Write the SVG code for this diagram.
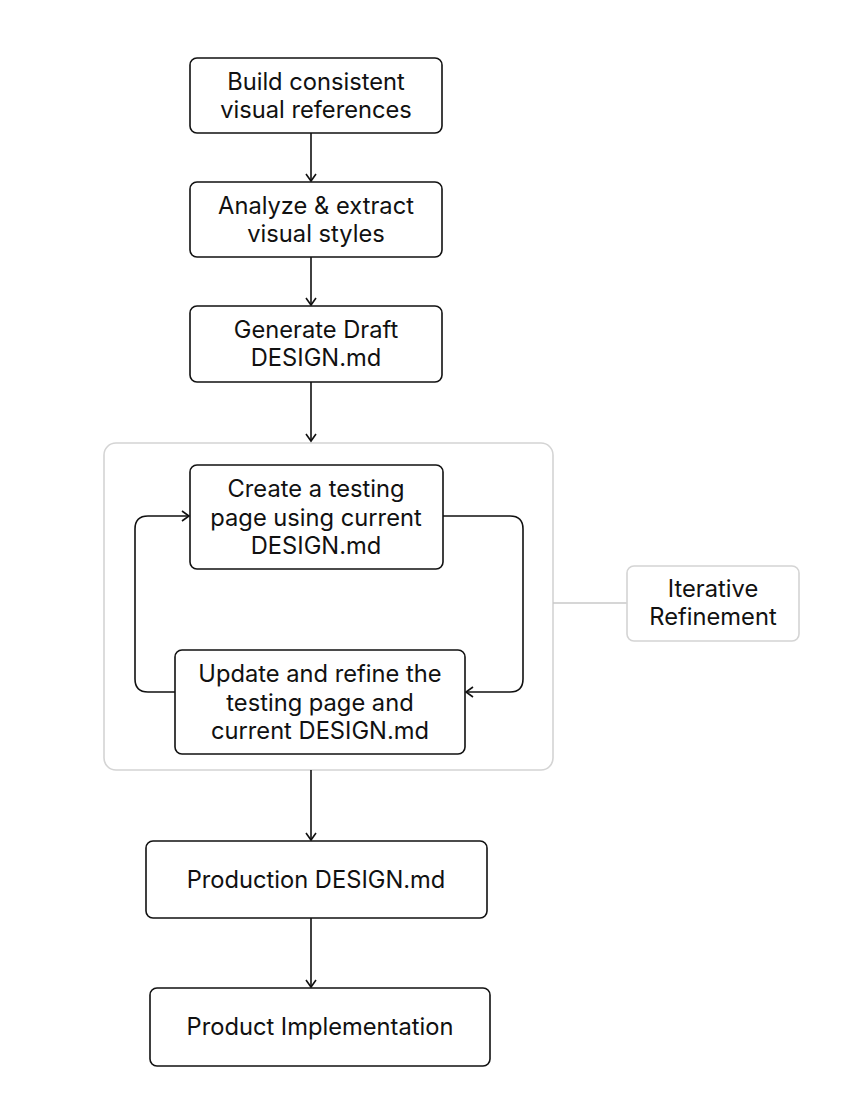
<svg xmlns="http://www.w3.org/2000/svg" width="850" height="1107" viewBox="0 0 850 1107">
<defs>
<marker id="ah" viewBox="0 0 12 12" refX="10" refY="6" markerWidth="12" markerHeight="12" markerUnits="userSpaceOnUse" orient="auto">
<path d="M3,1 L10,6 L3,11" fill="none" stroke="#111" stroke-width="1.6"/>
</marker>
</defs>
<style>
.n{fill:#fff;stroke:#111;stroke-width:1.6}
.g{fill:#fff;stroke:#d4d4d4;stroke-width:1.6}
.t{font-family:Inter,"Liberation Sans",sans-serif;font-size:23.7px;fill:#111;text-anchor:middle}
.c{fill:none;stroke:#111;stroke-width:1.6}
.cg{fill:none;stroke:#c8c8c8;stroke-width:1.6}
</style>
<rect width="850" height="1107" fill="#fff"/>
<g id="group-iterative">
<rect class="g" x="104" y="443" width="449" height="327" rx="12"/>
</g>
<g id="connectors">
<path class="c" d="M311,133 V181" marker-end="url(#ah)"/>
<path class="c" d="M311,257 V305" marker-end="url(#ah)"/>
<path class="c" d="M311,382 V441" marker-end="url(#ah)"/>
<path class="c" d="M175,692 H148 Q135,692 135,679 V529 Q135,516 148,516 H189" marker-end="url(#ah)"/>
<path class="c" d="M443,516 H510 Q523,516 523,529 V679 Q523,692 510,692 H466" marker-end="url(#ah)"/>
<path class="c" d="M311,770 V840" marker-end="url(#ah)"/>
<path class="c" d="M311,918 V987" marker-end="url(#ah)"/>
<path class="cg" d="M553,603 H627"/>
</g>
<g id="n1"><rect class="n" x="190" y="58" width="252" height="75" rx="7"/>
<text class="t" x="316" y="90">Build consistent</text><text class="t" x="316" y="118">visual references</text></g>
<g id="n2"><rect class="n" x="190" y="182" width="252" height="75" rx="7"/>
<text class="t" x="316" y="214">Analyze &amp; extract</text><text class="t" x="316" y="242">visual styles</text></g>
<g id="n3"><rect class="n" x="190" y="306" width="252" height="76" rx="7"/>
<text class="t" x="316" y="338">Generate Draft</text><text class="t" x="316" y="366">DESIGN.md</text></g>
<g id="n4"><rect class="n" x="190" y="465" width="253" height="104" rx="7"/>
<text class="t" x="316" y="497">Create a testing</text><text class="t" x="316" y="525.5">page using current</text><text class="t" x="316" y="554">DESIGN.md</text></g>
<g id="n5"><rect class="n" x="175" y="650" width="290" height="104" rx="7"/>
<text class="t" x="320" y="682">Update and refine the</text><text class="t" x="320" y="710.5">testing page and</text><text class="t" x="320" y="739">current DESIGN.md</text></g>
<g id="label-iterative"><rect class="g" x="627" y="566" width="172" height="75" rx="7"/>
<text class="t" x="713" y="597">Iterative</text><text class="t" x="713" y="625">Refinement</text></g>
<g id="n6"><rect class="n" x="146" y="841" width="341" height="77" rx="7"/>
<text class="t" x="316" y="888">Production DESIGN.md</text></g>
<g id="n7"><rect class="n" x="150" y="988" width="340" height="78" rx="7"/>
<text class="t" x="320" y="1035">Product Implementation</text></g>
</svg>
